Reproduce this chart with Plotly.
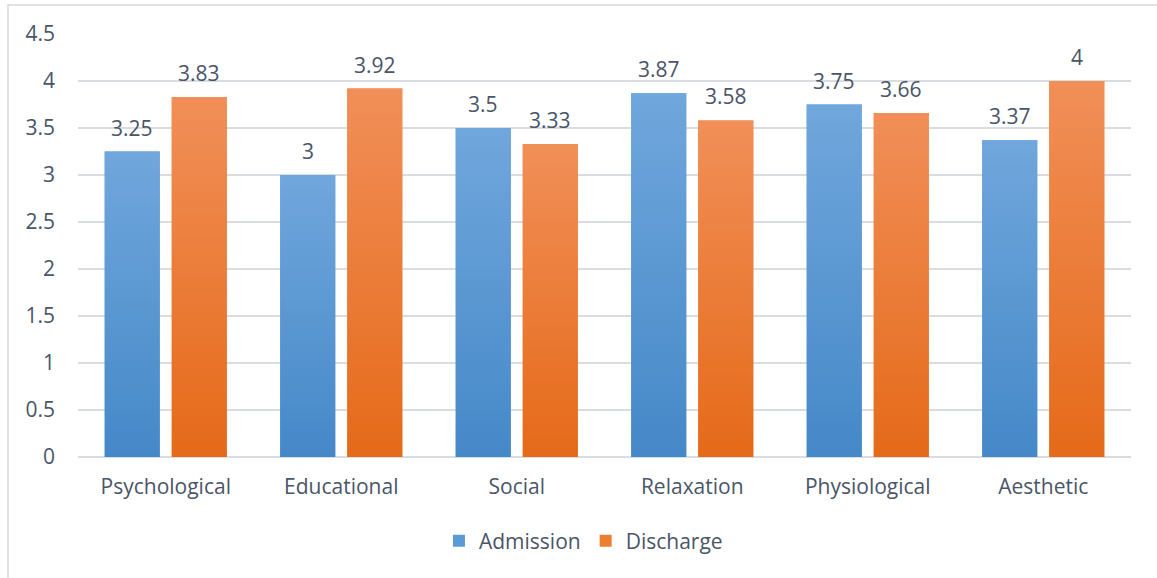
import plotly.graph_objects as go

categories = ["Psychological", "Educational", "Social", "Relaxation", "Physiological", "Aesthetic"]
admission = [3.25, 3.0, 3.5, 3.87, 3.75, 3.37]
discharge = [3.83, 3.92, 3.33, 3.58, 3.66, 4.0]
y_ticks = [0, 0.5, 1, 1.5, 2, 2.5, 3, 3.5, 4, 4.5]

W, H = 1157, 578
ML, MR, MT, MB = 78, 26, 34, 121
plot_w = W - ML - MR
plot_h = H - MT - MB

text_color = "#4a5568"
grid_color = "#d9dce1"
font_family = "Open Sans, Noto Sans, sans-serif"
FS = 21

bargap = 0.236
bargroupgap = 0.179
slot = (1 - bargap) / 2                # width of each series slot, in category units
bar_w = slot * (1 - bargroupgap)       # drawn bar width, in category units

series = [
    ("Admission", admission, "#5b9bd5", "#4588c8", "#70a7dc", -1),
    ("Discharge", discharge, "#ed7d31", "#e56a19", "#f18f58", 1),
]

x_idx = list(range(len(categories)))

fig = go.Figure()
for name, vals, solid, dark, light, side in series:
    fig.add_trace(go.Bar(name=name, x=x_idx, y=vals, legendgroup=name,
                         marker=dict(color=solid, line=dict(width=0)),
                         hoverinfo="skip"))

# vertical gradient overlay for each bar (darker at the base, lighter at the top)
for name, vals, solid, dark, light, side in series:
    for i, v in zip(x_idx, vals):
        xc = i + side * slot / 2
        x0, x1 = xc - bar_w / 2, xc + bar_w / 2
        fig.add_trace(go.Scatter(
            x=[x0, x1, x1, x0, x0], y=[0, 0, v, v, 0],
            mode="none", fill="toself", showlegend=False, legendgroup=name,
            hoverinfo="skip",
            fillgradient=dict(type="vertical", start=0, stop=v,
                              colorscale=[[0, dark], [1, light]]),
        ))

# value labels above each bar
for name, vals, solid, dark, light, side in series:
    for i, v in zip(x_idx, vals):
        fig.add_annotation(x=i + side * slot / 2, y=v, xref="x", yref="y", text=f"{v:g}",
                           showarrow=False, yanchor="bottom", yshift=8,
                           font=dict(size=FS, color=text_color, family=font_family))

# light frame around the chart area
fig.add_shape(type="rect", xref="paper", yref="paper",
              x0=(8 - ML) / plot_w, x1=(W + 5 - ML) / plot_w,
              y0=(H - MB - (H + 5)) / plot_h, y1=(H - MB - 5) / plot_h,
              line=dict(color="#d9d9d9", width=1.5), fillcolor="rgba(0,0,0,0)", layer="below")

fig.update_layout(
    width=W, height=H,
    margin=dict(l=ML, r=MR, t=MT, b=MB, pad=0),
    paper_bgcolor="white", plot_bgcolor="white",
    barmode="group", bargap=bargap, bargroupgap=bargroupgap,
    font=dict(family=font_family, size=FS, color=text_color),
    showlegend=True,
    legend=dict(orientation="h", x=0.48, xanchor="center", y=-0.199, yanchor="middle",
                font=dict(size=FS, color=text_color), itemwidth=30,
                traceorder="normal"),
    xaxis=dict(range=[-0.5, len(categories) - 0.5], tickvals=x_idx, ticktext=categories,
               showgrid=False, showline=False, zeroline=False, ticks="",
               ticklabelstandoff=15, tickfont=dict(size=FS, color=text_color)),
    yaxis=dict(range=[0, 4.5], tickvals=y_ticks, ticktext=[f"{t:g}" for t in y_ticks],
               showgrid=True, gridcolor=grid_color, gridwidth=1.5,
               zeroline=True, zerolinecolor=grid_color, zerolinewidth=1.5,
               showline=False, ticks="", ticklabelstandoff=22,
               tickfont=dict(size=FS, color=text_color)),
)

fig.write_html("out.html")
